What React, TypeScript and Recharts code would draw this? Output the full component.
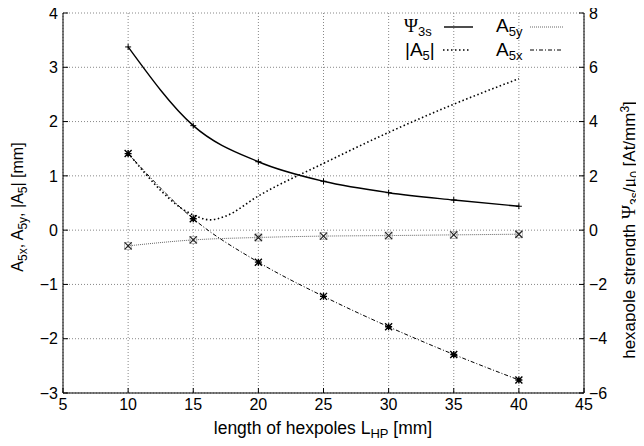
import React from "react";
import { CartesianGrid, Label, Line, LineChart, XAxis, YAxis } from "recharts";

// hexapole length (mm) at which the sweep was evaluated
const hexLength = [10, 15, 20, 25, 30, 35, 40];
// hexapole strength, right axis (At/mm^3)
const psi3s = [6.75, 3.85, 2.52, 1.8, 1.38, 1.11, 0.88];
// aberration coefficients, left axis (mm)
const a5x = [1.41, 0.21, -0.59, -1.22, -1.78, -2.29, -2.76];
const a5y = [-0.29, -0.18, -0.135, -0.11, -0.1, -0.087, -0.075];
// |A5|, including the dip near 16 mm
const a5absLength = [10, 15, 16.3, 17.5, 20, 25, 30, 35, 40];
const a5abs = [1.42, 0.28, 0.19, 0.26, 0.63, 1.23, 1.8, 2.32, 2.79];

const xTicks = [5, 10, 15, 20, 25, 30, 35, 40, 45];
const leftTicks = [-3, -2, -1, 0, 1, 2, 3, 4];
const rightTicks = [-6, -4, -2, 0, 2, 4, 6, 8];

const psiData = hexLength.map((x, i) => ({ x, v: psi3s[i] }));
const a5xData = hexLength.map((x, i) => ({ x, v: a5x[i] }));
const a5yData = hexLength.map((x, i) => ({ x, v: a5y[i] }));
const a5absData = a5absLength.map((x, i) => ({ x, v: a5abs[i] }));

const FONT = "'Liberation Sans', Arial, Helvetica, sans-serif";
const SERIF = "'Liberation Serif', 'DejaVu Serif', serif";
const tickStyle = { fontSize: 16, fill: "#000", fontFamily: FONT };
const fmt = (v: number) => String(v).replace("-", "\u2212");

const PlusDot = (p: any) => {
  const { cx, cy } = p;
  if (cx == null || cy == null) return null;
  return <path key={`p${cx}`} d={`M${cx - 3},${cy}h6M${cx},${cy - 3}v6`} stroke="#000" strokeWidth={1} />;
};

const StarDot = (p: any) => {
  const { cx, cy } = p;
  if (cx == null || cy == null) return null;
  const r = 3.5;
  return (
    <path
      key={`s${cx}`}
      d={`M${cx - r},${cy}h${2 * r}M${cx},${cy - r}v${2 * r}M${cx - r},${cy - r}l${2 * r},${2 * r}M${cx - r},${cy + r}l${2 * r},${-2 * r}`}
      stroke="#000"
      strokeWidth={1.4}
    />
  );
};

const CrossDot = (p: any) => {
  const { cx, cy } = p;
  if (cx == null || cy == null) return null;
  const r = 3.5;
  return (
    <g key={`c${cx}`}>
      <rect x={cx - r} y={cy - r} width={2 * r} height={2 * r} fill="none" stroke="#aaa" strokeWidth={0.8} />
      <path d={`M${cx - r},${cy - r}l${2 * r},${2 * r}M${cx - r},${cy + r}l${2 * r},${-2 * r}`} stroke="#222" strokeWidth={1.2} />
    </g>
  );
};

const LeftTitle = () => (
  <text transform="translate(23,207) rotate(-90)" textAnchor="middle" fontSize={16} fontFamily={FONT} fill="#000">
    A<tspan dy={4} fontSize={12}>5x</tspan>
    <tspan dy={-4}>, A</tspan>
    <tspan dy={4} fontSize={12}>5y</tspan>
    <tspan dy={-4}>, |A</tspan>
    <tspan dy={4} fontSize={12}>5</tspan>
    <tspan dy={-4}>|  [mm]</tspan>
  </text>
);

const RightTitle = () => (
  <text transform="translate(635,230) rotate(-90)" textAnchor="middle" fontSize={17} fontFamily={FONT} fill="#000">
    hexapole strength <tspan fontFamily={SERIF} fontSize={19}>Ψ</tspan>
    <tspan dy={4} fontSize={12}>3s</tspan>
    <tspan dy={-4}>/</tspan>
    <tspan fontFamily={SERIF} fontSize={18}>μ</tspan>
    <tspan dy={4} fontSize={12}>0</tspan>
    <tspan dy={-4}> [At/mm</tspan>
    <tspan dy={-6} fontSize={12}>3</tspan>
    <tspan dy={6}>]</tspan>
  </text>
);

const BottomTitle = () => (
  <text x={323} y={434} textAnchor="middle" fontSize={17.5} fontFamily={FONT} fill="#000">
    length of hexpoles L<tspan dy={4} fontSize={13}>HP</tspan>
    <tspan dy={-4}> [mm]</tspan>
  </text>
);

const sub: React.CSSProperties = { fontSize: 13, position: "relative", top: 4 };
const legendText: React.CSSProperties = { position: "absolute", fontSize: 19, fontFamily: FONT, lineHeight: "18px", whiteSpace: "nowrap" };

// legend drawn as an overlay at the top right of the plot
const ChartLegend = () => (
  <div style={{ position: "absolute", left: 0, top: 0, width: 644, height: 80, pointerEvents: "none" }}>
    <span style={{ ...legendText, left: 404, top: 17 }}>
      <span style={{ fontFamily: SERIF }}>Ψ</span>
      <span style={sub}>3s</span>
    </span>
    <span style={{ ...legendText, left: 405, top: 41 }}>
      |A<span style={sub}>5</span>|
    </span>
    <span style={{ ...legendText, left: 496, top: 17 }}>
      A<span style={sub}>5y</span>
    </span>
    <span style={{ ...legendText, left: 496, top: 41 }}>
      A<span style={sub}>5x</span>
    </span>
    <svg width={644} height={80} style={{ position: "absolute", left: 0, top: 0 }}>
      <line x1={444} x2={473} y1={27} y2={27} stroke="#000" strokeWidth={1.4} />
      <line x1={443} x2={471} y1={50} y2={50} stroke="#000" strokeWidth={1.4} strokeDasharray="1.5 2.5" />
      <line x1={530} x2={564} y1={27} y2={27} stroke="#666" strokeWidth={1} strokeDasharray="1 1" />
      <line x1={530} x2={563} y1={50} y2={50} stroke="#000" strokeWidth={1} strokeDasharray="4 2 1 2" />
    </svg>
  </div>
);

export default function App() {
  return (
    <div style={{ margin: -8, position: "relative", width: 644, height: 446, background: "#fff" }}>
      <LineChart width={644} height={446} margin={{ top: 13, right: 30, bottom: 28, left: 33 }}>
        <CartesianGrid xAxisId="bottom" yAxisId="left" stroke="#888" strokeDasharray="1 2" />
        <XAxis
          xAxisId="bottom"
          dataKey="x"
          type="number"
          domain={[5, 45]}
          ticks={xTicks}
          allowDuplicatedCategory={false}
          height={25}
          stroke="#000"
          tickSize={-5}
          tickMargin={11}
          tick={tickStyle}
        >
          <Label content={<BottomTitle />} />
        </XAxis>
        <XAxis
          xAxisId="top"
          orientation="top"
          dataKey="x"
          type="number"
          domain={[5, 45]}
          ticks={xTicks}
          height={0}
          stroke="#000"
          tickSize={-5}
          tickFormatter={() => ""}
        />
        <YAxis
          yAxisId="left"
          type="number"
          domain={[-3, 4]}
          ticks={leftTicks}
          width={30}
          stroke="#000"
          tickSize={-5}
          tickMargin={10}
          tick={tickStyle}
          tickFormatter={fmt}
        >
          <Label content={<LeftTitle />} />
        </YAxis>
        <YAxis
          yAxisId="right"
          orientation="right"
          type="number"
          domain={[-6, 8]}
          ticks={rightTicks}
          width={30}
          stroke="#000"
          tickSize={-5}
          tickMargin={10}
          tick={tickStyle}
          tickFormatter={fmt}
        >
          <Label content={<RightTitle />} />
        </YAxis>
        <Line
          xAxisId="bottom"
          yAxisId="left"
          data={a5absData}
          dataKey="v"
          type="monotone"
          stroke="#000"
          strokeWidth={1.6}
          strokeDasharray="1.5 2.5"
          dot={false}
          isAnimationActive={false}
        />
        <Line
          xAxisId="bottom"
          yAxisId="left"
          data={a5yData}
          dataKey="v"
          type="monotone"
          stroke="#666"
          strokeWidth={1}
          strokeDasharray="1 1"
          dot={CrossDot}
          isAnimationActive={false}
        />
        <Line
          xAxisId="bottom"
          yAxisId="left"
          data={a5xData}
          dataKey="v"
          type="monotone"
          stroke="#000"
          strokeWidth={1}
          strokeDasharray="4 2 1 2"
          dot={StarDot}
          isAnimationActive={false}
        />
        <Line
          xAxisId="bottom"
          yAxisId="right"
          data={psiData}
          dataKey="v"
          type="monotone"
          stroke="#000"
          strokeWidth={1.4}
          dot={PlusDot}
          isAnimationActive={false}
        />
      </LineChart>
      <ChartLegend />
    </div>
  );
}
